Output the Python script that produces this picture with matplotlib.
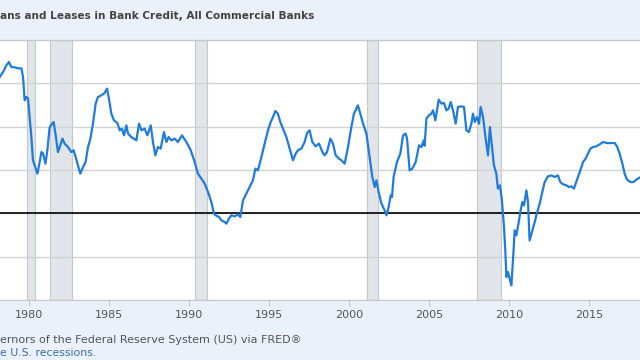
import matplotlib
matplotlib.use("Agg")
import matplotlib.pyplot as plt

# percent change from year ago
years = [1978.17, 1978.38, 1978.59, 1978.75, 1978.90, 1979.11, 1979.31, 1979.53, 1979.63, 1979.73,
         1979.84, 1979.94, 1980.04, 1980.15, 1980.25, 1980.42, 1980.53, 1980.63, 1980.78, 1980.88,
         1981.03, 1981.15, 1981.29, 1981.44, 1981.54, 1981.67, 1981.81, 1981.96, 1982.09, 1982.23,
         1982.44, 1982.65, 1982.79, 1982.92, 1983.06, 1983.21, 1983.38, 1983.54, 1983.69, 1983.84,
         1984.00, 1984.17, 1984.31, 1984.53, 1984.73, 1984.88, 1984.98, 1985.15, 1985.31, 1985.53,
         1985.67, 1985.81, 1985.94, 1986.09, 1986.19, 1986.40, 1986.71, 1986.88, 1987.03, 1987.23,
         1987.40, 1987.61, 1987.75, 1987.90, 1988.06, 1988.23, 1988.44, 1988.59, 1988.73, 1988.90,
         1989.11, 1989.31, 1989.56, 1989.84, 1990.11, 1990.36, 1990.56, 1990.78, 1990.98, 1991.19,
         1991.40, 1991.56, 1991.67, 1991.88, 1992.03, 1992.23, 1992.34, 1992.50, 1992.65, 1992.86,
         1993.06, 1993.21, 1993.38, 1993.59, 1993.79, 1994.00, 1994.15, 1994.31, 1994.53, 1994.73,
         1994.94, 1995.11, 1995.25, 1995.40, 1995.56, 1995.71, 1995.88, 1996.09, 1996.29, 1996.50,
         1996.67, 1996.81, 1997.03, 1997.23, 1997.38, 1997.54, 1997.71, 1997.92, 1998.13, 1998.34,
         1998.48, 1998.63, 1998.84, 1999.00, 1999.17, 1999.38, 1999.53, 1999.73, 1999.94, 2000.15,
         2000.31, 2000.56, 2000.71, 2000.88, 2001.09, 2001.29, 2001.46, 2001.61, 2001.71, 2001.88,
         2002.03, 2002.23, 2002.34, 2002.48, 2002.61, 2002.69, 2002.79, 2003.00, 2003.21, 2003.38,
         2003.54, 2003.63, 2003.79, 2003.96, 2004.17, 2004.38, 2004.53, 2004.67, 2004.73, 2004.84,
         2005.00, 2005.15, 2005.26, 2005.40, 2005.61, 2005.78, 2005.94, 2006.09, 2006.23, 2006.36,
         2006.50, 2006.67, 2006.81, 2007.03, 2007.19, 2007.34, 2007.50, 2007.65, 2007.75, 2007.86,
         2008.00, 2008.13, 2008.23, 2008.38, 2008.53, 2008.69, 2008.81, 2008.94, 2009.06, 2009.21,
         2009.31, 2009.44, 2009.56, 2009.69, 2009.78, 2009.84, 2009.94, 2010.04, 2010.15, 2010.25,
         2010.36, 2010.46, 2010.56, 2010.73, 2010.84, 2010.94, 2011.09, 2011.19, 2011.29, 2011.44,
         2011.61, 2011.71, 2011.92, 2012.09, 2012.23, 2012.44, 2012.65, 2012.86, 2013.06, 2013.21,
         2013.38, 2013.59, 2013.75, 2013.90, 2014.06, 2014.17, 2014.31, 2014.46, 2014.63, 2014.79,
         2014.94, 2015.09, 2015.25, 2015.46, 2015.67, 2015.88, 2016.13, 2016.40, 2016.61, 2016.75,
         2016.92, 2017.09, 2017.23, 2017.38, 2017.59, 2017.79, 2017.96, 2018.17]
pct = [15.73, 16.30, 17.08, 17.46, 16.88, 16.85, 16.73, 16.73, 15.73, 13.04,
       13.42, 13.27, 11.11, 8.80, 6.12, 5.19, 4.58, 5.54, 7.07, 6.92,
       5.73, 7.27, 9.89, 10.35, 10.53, 9.00, 7.07, 7.85, 8.62, 8.04,
       7.65, 7.07, 7.27, 6.50, 5.54, 4.58, 5.34, 5.92, 7.65, 8.62,
       10.35, 12.66, 13.42, 13.62, 13.88, 14.39, 13.42, 11.50, 10.73, 10.42,
       9.58, 9.77, 9.00, 10.15, 9.20, 8.80, 8.42, 10.35, 9.58, 9.77,
       9.00, 10.15, 8.23, 6.69, 7.65, 7.47, 9.38, 8.23, 8.80, 8.42,
       8.62, 8.23, 9.00, 8.23, 7.27, 5.92, 4.58, 4.00, 3.43, 2.46,
       1.30, -0.03, -0.23, -0.43, -0.81, -1.00, -1.19, -0.61, -0.23, -0.35,
       -0.12, -0.43, 1.50, 2.27, 3.03, 3.81, 5.16, 4.96, 6.50, 8.04,
       9.58, 10.53, 11.11, 11.80, 11.50, 10.53, 9.77, 8.80, 7.47, 6.12,
       6.89, 7.27, 7.47, 8.23, 9.27, 9.58, 8.23, 7.73, 8.04, 7.07,
       6.69, 7.07, 8.62, 8.04, 6.69, 6.31, 6.12, 5.73, 7.65, 9.96,
       11.50, 12.46, 11.50, 10.35, 9.20, 6.50, 4.19, 3.03, 3.81, 2.27,
       1.12, 0.35, -0.23, 0.73, 2.08, 1.88, 4.19, 5.92, 6.89, 9.00,
       9.20, 8.62, 4.96, 5.16, 5.92, 7.85, 7.65, 8.42, 7.80, 10.93,
       11.31, 11.50, 11.88, 10.73, 13.12, 12.66, 12.73, 11.88, 12.08, 12.84,
       11.88, 10.35, 12.27, 12.35, 12.27, 9.58, 9.38, 10.35, 11.50, 10.53,
       11.11, 10.35, 12.27, 11.11, 8.80, 6.69, 9.96, 7.65, 5.54, 4.58,
       2.85, 3.23, 1.50, -1.58, -4.65, -7.35, -6.77, -7.53, -8.31, -5.42,
       -1.96, -2.54, -1.58, 0.35, 1.30, 0.92, 2.65, 1.30, -3.12, -2.16,
       -1.00, -0.23, 1.12, 2.46, 3.61, 4.27, 4.38, 4.19, 4.38, 3.61,
       3.35, 3.23, 3.03, 3.12, 2.85, 3.43, 4.19, 4.96, 5.92, 6.31,
       6.89, 7.47, 7.65, 7.73, 7.96, 8.23, 8.11, 8.11, 8.11, 7.73,
       6.89, 5.73, 4.58, 3.89, 3.61, 3.61, 3.89, 4.12]

recessions = [(1979.86, 1980.36), (1981.33, 1982.71), (1990.39, 1991.11),
              (2001.14, 2001.81), (2007.98, 2009.48)]
tick_years = [1980, 1985, 1990, 1995, 2000, 2005, 2010, 2015]
y_grid = [-10, -5, 0, 5, 10, 15, 20]

bg = "#eaf1fa"
fig = plt.figure(figsize=(6.4, 3.6), dpi=100, facecolor=bg)
ax = fig.add_axes([0, 60 / 360, 1, 260 / 360])
ax.set_facecolor("white")

for a, b in recessions:
    ax.axvspan(a, b, facecolor="#e1e5ea", edgecolor="#c4c8cc", linewidth=0.8, zorder=0)

for g in y_grid:
    ax.axhline(g, color="#d2d2d2", linewidth=1.0, zorder=1)
ax.axhline(0, color="black", linewidth=1.2, zorder=2)

ax.plot(years, pct, color="#1f7bdc", linewidth=1.6, zorder=3)

ax.set_xlim(1978.19, 2018.19)
ax.set_ylim(-10, 20)
ax.set_xticks(tick_years)
ax.set_xticklabels([str(t) for t in tick_years])
ax.set_yticks([])
ax.tick_params(axis="x", colors="#c8c8c8", length=4, labelcolor="#555555", labelsize=8, pad=3)
for s in ["left", "right"]:
    ax.spines[s].set_visible(False)
ax.spines["top"].set_color("#c8c8c8")
ax.spines["bottom"].set_color("#c8c8c8")

fig.text(0.0, 1 - 16 / 360, "ans and Leases in Bank Credit, All Commercial Banks",
         ha="left", va="center", fontsize=7.6, fontweight="bold", color="#444444")
fig.text(0.0, 1 - 340 / 360, "ernors of the Federal Reserve System (US) via FRED\u00ae",
         ha="left", va="center", fontsize=8, color="#555555")
fig.text(0.0, 1 - 353 / 360, "e U.S. recessions.",
         ha="left", va="center", fontsize=7.8, color="#3a6db5")

fig.savefig("out.png", dpi=100, facecolor=bg)
